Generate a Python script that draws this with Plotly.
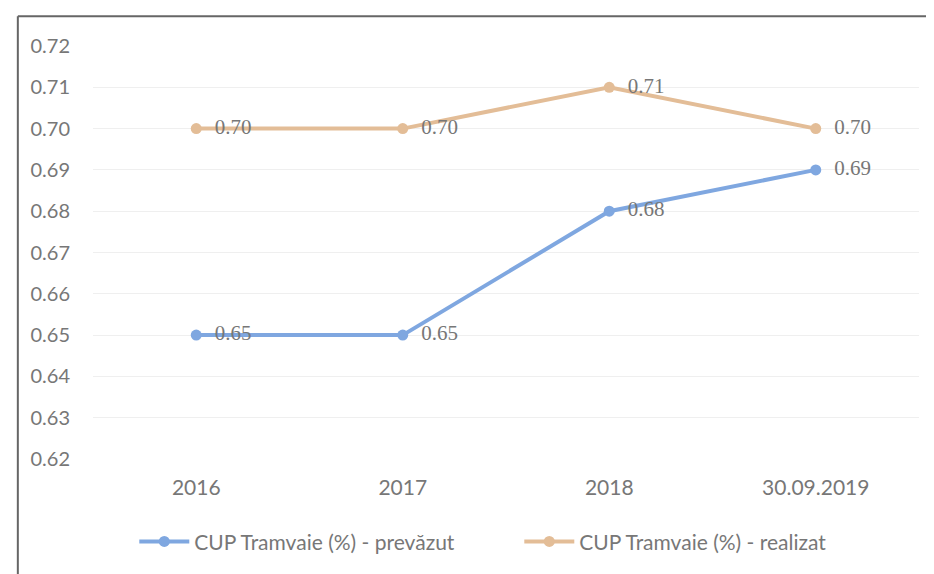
import plotly.graph_objects as go

categories = ['2016', '2017', '2018', '30.09.2019']
prevazut = [0.65, 0.65, 0.68, 0.69]
realizat = [0.70, 0.70, 0.71, 0.70]
y_ticks = [0.62, 0.63, 0.64, 0.65, 0.66, 0.67, 0.68, 0.69, 0.70, 0.71, 0.72]

blue = '#7fa7e0'
tan = '#e3bd97'
text_col = '#777777'

fig = go.Figure()
fig.add_trace(go.Scatter(
    x=categories, y=prevazut, name='CUP Tramvaie (%) - prevăzut',
    mode='lines+markers+text', line=dict(color=blue, width=4),
    marker=dict(size=11, color=blue),
    text=[f'  {v:.2f}' for v in prevazut], textposition='middle right',
    textfont=dict(family='Liberation Serif, serif', size=21, color=text_col),
))
fig.add_trace(go.Scatter(
    x=categories, y=realizat, name='CUP Tramvaie (%) - realizat',
    mode='lines+markers+text', line=dict(color=tan, width=4),
    marker=dict(size=11, color=tan),
    text=[f'  {v:.2f}' for v in realizat], textposition='middle right',
    textfont=dict(family='Liberation Serif, serif', size=21, color=text_col),
))

# frame of the scanned chart: only left and top edges are visible
frame = dict(color='#666666', width=2)

fig.update_layout(
    width=934, height=574,
    margin=dict(l=85, r=23, t=38, b=123),
    paper_bgcolor='white', plot_bgcolor='white',
    font=dict(family='Lato, Open Sans, sans-serif', size=18, color=text_col),
    xaxis=dict(range=[-0.5, 3.5], showgrid=False, showline=False, zeroline=False,
               ticks='', tickfont=dict(size=21), ticklabelstandoff=14,
               automargin=False),
    yaxis=dict(range=[0.62, 0.72], tickvals=y_ticks,
               ticktext=[f'{v:.2f}' for v in y_ticks],
               showgrid=True, gridcolor='#efefef', gridwidth=1,
               zeroline=False, showline=False, ticks='',
               tickfont=dict(size=20), ticklabelstandoff=22,
               automargin=False),
    legend=dict(orientation='h', x=0.05, xanchor='left',
                yref='container', y=0.07, yanchor='middle',
                entrywidth=320, itemwidth=50,
                font=dict(size=21, color=text_col)),
    showlegend=True,
    shapes=[
        dict(type='line', xref='paper', yref='paper',
             x0=-0.091, x1=-0.091, y0=-0.35, y1=1.072, line=frame),
        dict(type='line', xref='paper', yref='paper',
             x0=-0.091, x1=1.05, y0=1.072, y1=1.072, line=frame),
    ],
)

fig.write_html('out.html')
